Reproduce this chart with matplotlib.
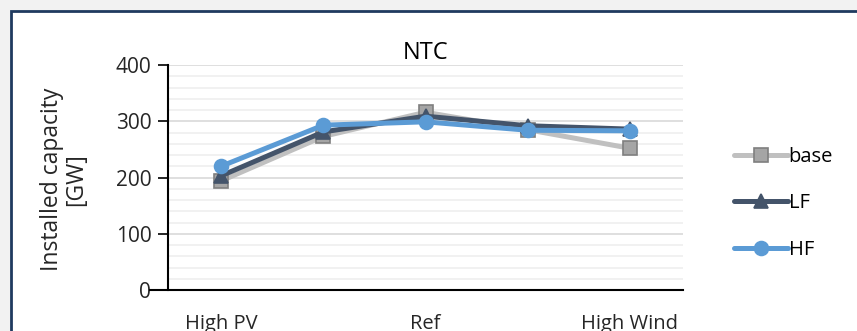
import matplotlib.pyplot as plt
from matplotlib.patches import Rectangle
from matplotlib.ticker import MultipleLocator
import numpy as np

plt.rcParams['font.family'] = ['Open Sans', 'DejaVu Sans']

scenarios = ["High PV", "", "Ref", "", "High Wind"]
base = [194, 273, 316, 285, 252]
lf = [203, 281, 309, 292, 286]
hf = [220, 293, 299, 284, 283]

series = [
    ("base", base, "#c0c0c0", "s", "#a5a5a5", "#7f7f7f"),
    ("LF", lf, "#44546a", "^", "#44546a", "#44546a"),
    ("HF", hf, "#5b9bd5", "o", "#5b9bd5", "#5b9bd5"),
]

fig = plt.figure(figsize=(8.57, 3.31), dpi=100)
fig.patch.set_facecolor("#f2f2f2")

# white chart area with dark frame
fig.patches.append(Rectangle((11 / 857, -0.1), 1.0, 1 - 11 / 331 + 0.1,
                             transform=fig.transFigure, facecolor="white",
                             edgecolor="#1f3a5f", linewidth=2.0, zorder=-5))

ax = fig.add_axes([168 / 857, 1 - 290 / 331, (683 - 168) / 857, (290 - 65) / 331])
ax.set_facecolor("none")
x = np.arange(len(scenarios))

for name, vals, lc, mk, mfc, mec in series:
    ax.plot(x, vals, color=lc, linewidth=3.6, marker=mk, markersize=10,
            markerfacecolor=mfc, markeredgecolor=mec, markeredgewidth=1.2,
            label=name, zorder=3, solid_capstyle="round")

ax.set_xlim(-0.52, len(scenarios) - 0.48)
ax.set_ylim(0, 400)
ax.yaxis.set_major_locator(MultipleLocator(100))
ax.yaxis.set_minor_locator(MultipleLocator(20))
ax.grid(which="major", axis="y", color="#d9d9d9", linewidth=1.2, zorder=0)
ax.grid(which="minor", axis="y", color="#efefef", linewidth=1.2, zorder=0)
ax.set_axisbelow(True)

ax.set_xticks(x)
ax.set_xticklabels(scenarios, fontsize=14.5, color="#262626")
ax.tick_params(axis="x", length=0, pad=17)
ax.tick_params(axis="y", which="major", length=7, width=1.2, labelsize=15,
               labelcolor="#262626", pad=5)
ax.tick_params(axis="y", which="minor", length=0)

for side in ["top", "right"]:
    ax.spines[side].set_visible(False)
ax.spines["left"].set_linewidth(1.5)
ax.spines["bottom"].set_linewidth(1.5)
ax.spines["bottom"].set_bounds(-0.52 - 0.035 * 4.96, len(scenarios) - 0.48)
ax.spines["bottom"].set_clip_on(False)

ax.set_ylabel("Installed capacity\n[GW]", fontsize=16.5, color="#262626",
              linespacing=1.0)
ax.yaxis.set_label_coords(-0.155, 0.49)
ax.set_title("NTC", fontsize=17, color="black", pad=3)

ax.legend(loc="center left", bbox_to_anchor=(1.08, 0.385), frameon=False,
          fontsize=14.5, handlelength=2.65, labelspacing=1.3, handletextpad=0.05,
          borderpad=0)

fig.savefig("out.png", dpi=100, facecolor=fig.get_facecolor())
